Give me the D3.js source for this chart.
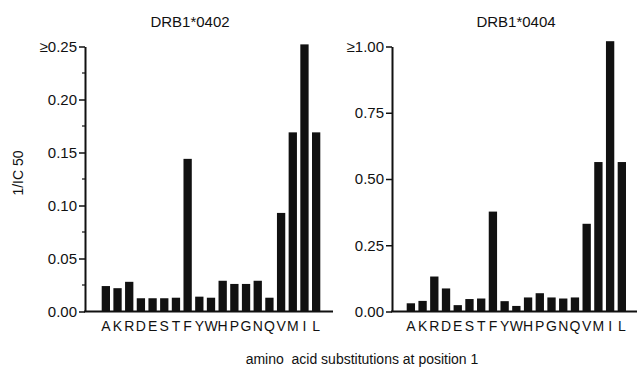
<!DOCTYPE html>
<html>
<head>
<meta charset="utf-8">
<script src="https://cdn.jsdelivr.net/npm/d3@7"></script>
<style>
  body { margin: 0; background: #fff; }
  svg text { font-family: "Liberation Sans", Arial, sans-serif; fill: #111; }
</style>
</head>
<body>
<div id="container"></div>
<script>
// amino acids substituted at position 1
const categories = ["A","K","R","D","E","S","T","F","Y","W","H","P","G","N","Q","V","M","I","L"];

// 1/IC50 values
const drb0402 = [0.024,0.022,0.028,0.0125,0.0125,0.0125,0.013,0.144,0.014,0.013,0.029,0.026,0.026,0.029,0.013,0.093,0.169,0.252,0.169];
const drb0404 = [0.031,0.040,0.132,0.087,0.024,0.047,0.049,0.377,0.039,0.021,0.053,0.069,0.053,0.049,0.053,0.331,0.564,1.02,0.564];

const ticks0402 = [0, 0.05, 0.10, 0.15, 0.20, 0.25];
const minor0402 = [0.025, 0.075, 0.125, 0.175, 0.225];
const ticks0404 = [0, 0.25, 0.50, 0.75, 1.00];

const width = 639;
const height = 375;

const svg = d3.select('#container')
  .append('svg')
  .attr('width', width)
  .attr('height', height);

svg.append('rect').attr('width', width).attr('height', height).attr('fill', '#fff');

function panel(opts) {
  const y = d3.scaleLinear().domain([0, opts.max]).range([311.5, 46.5]);
  const x = d3.scaleBand().domain(categories)
    .range([opts.barStart, opts.barEnd])
    .paddingInner(0.29).paddingOuter(0);

  const g = svg.append('g');

  // title
  g.append('text')
    .attr('x', opts.titleX)
    .attr('y', 27)
    .attr('text-anchor', 'middle')
    .style('font-size', '15px')
    .text(opts.title);

  // bars
  g.selectAll('.bar')
    .data(opts.values)
    .enter()
    .append('rect')
    .attr('class', 'bar')
    .attr('x', (d, i) => x(categories[i]))
    .attr('width', x.bandwidth())
    .attr('y', d => y(d))
    .attr('height', d => y(0) - y(d))
    .attr('fill', '#111');

  // minor ticks
  if (opts.minor) {
    g.selectAll('.minor')
      .data(opts.minor)
      .enter()
      .append('line')
      .attr('x1', opts.axisX - 3)
      .attr('x2', opts.axisX)
      .attr('y1', d => y(d))
      .attr('y2', d => y(d))
      .attr('stroke', '#111')
      .attr('stroke-width', 1.2);
  }

  // y axis
  const yAxis = d3.axisLeft(y)
    .tickValues(opts.ticks)
    .tickSize(6)
    .tickSizeOuter(0)
    .tickPadding(2)
    .tickFormat((d, i) => (i === opts.ticks.length - 1 ? '\u2265' : '') + d3.format('.2f')(d));

  const ya = g.append('g')
    .attr('transform', `translate(${opts.axisX},0)`)
    .call(yAxis);
  ya.select('.domain').attr('stroke', '#111').attr('stroke-width', 2);
  ya.selectAll('.tick line').attr('stroke', '#111').attr('stroke-width', 1.5);
  ya.selectAll('.tick text').style('font-size', '15px').attr('fill', '#111')
    .style('font-family', '"Liberation Sans", Arial, sans-serif');

  // baseline
  g.append('line')
    .attr('x1', opts.axisX - 1)
    .attr('x2', opts.baseEnd)
    .attr('y1', y(0))
    .attr('y2', y(0))
    .attr('stroke', '#111')
    .attr('stroke-width', 2);

  // category letters
  const xAxis = d3.axisBottom(x).tickSize(0).tickPadding(10);
  const xa = g.append('g')
    .attr('transform', `translate(0,${y(0)})`)
    .call(xAxis);
  xa.select('.domain').remove();
  xa.selectAll('.tick text').style('font-size', '14px').attr('fill', '#111')
    .style('font-family', '"Liberation Sans", Arial, sans-serif');
}

panel({
  title: 'DRB1*0402', titleX: 190, values: drb0402, max: 0.25,
  ticks: ticks0402, minor: minor0402,
  axisX: 85, barStart: 101.7, barEnd: 320.3, baseEnd: 333
});

panel({
  title: 'DRB1*0404', titleX: 516, values: drb0404, max: 1.0,
  ticks: ticks0404, minor: null,
  axisX: 392, barStart: 406.7, barEnd: 626, baseEnd: 637
});

// y label
svg.append('text')
  .attr('transform', 'translate(23,173) rotate(-90)')
  .attr('text-anchor', 'middle')
  .style('font-size', '14px')
  .text('1/IC 50');

// x label
svg.append('text')
  .attr('x', 362)
  .attr('y', 364)
  .attr('text-anchor', 'middle')
  .style('font-size', '14px')
  .style('white-space', 'pre')
  .text('amino  acid substitutions at position 1');
</script>
</body>
</html>
